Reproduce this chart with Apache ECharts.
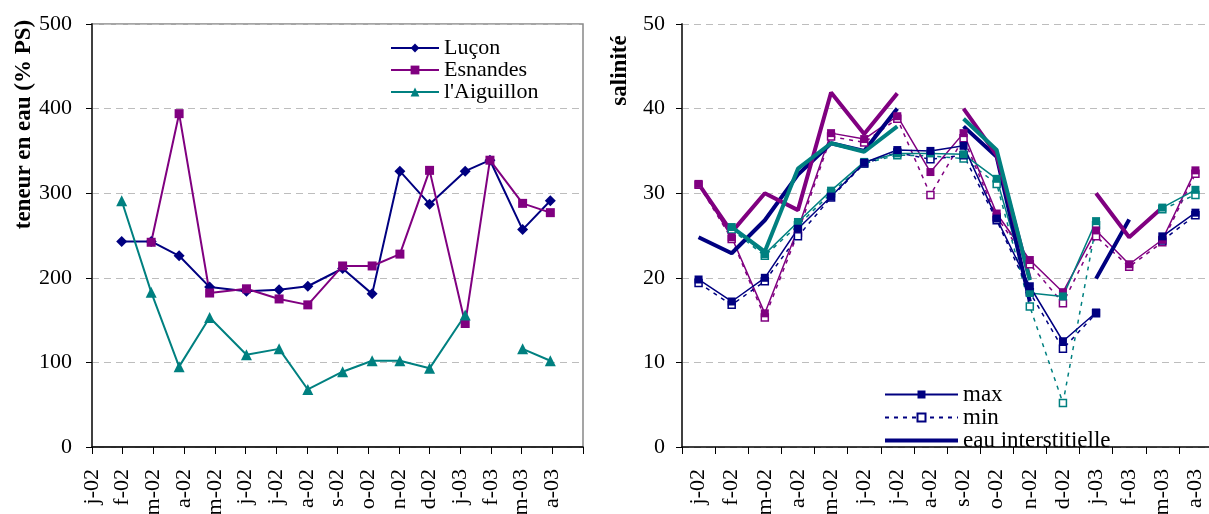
<!DOCTYPE html>
<html>
<head>
<meta charset="utf-8">
<script src="https://cdn.jsdelivr.net/npm/echarts@6/dist/echarts.min.js"></script>
<style>
    html, body { margin: 0; padding: 0; background: #fff; }
    #chart { width: 1209px; height: 514px; }
</style>
</head>
<body>
<div id="chart"></div>
<script>
var months = ['j-02', 'f-02', 'm-02', 'a-02', 'm-02', 'j-02', 'j-02', 'a-02', 's-02', 'o-02', 'n-02', 'd-02', 'j-03', 'f-03', 'm-03', 'a-03'];

// teneur en eau - sampling dates
var sampleDates = ['2002-01-31', '2002-02-27', '2002-03-27', '2002-04-26', '2002-06-02', '2002-07-04', '2002-08-02', '2002-09-06',
    '2002-10-05', '2002-11-02', '2002-12-01', '2003-01-06', '2003-01-31', '2003-03-02', '2003-03-30'];
var eauLucon = [243, 243, 226, 189, 184, 186, 190, 211, 181, 326, 287, 326, 339, 257, 291];
var eauEsnandes = [null, 242, 394, 182, 187, 175, 168, 214, 214, 228, 327, 146, 339, 288, 277];
var eauAiguillon = [291, 183, 95, 153, 109, 116, 68, 89, 102, 102, 93, 156, null, 116, 102];

// salinité
var maxLucon = [19.8, 17.2, 20.0, 25.8, 29.6, 33.6, 35.1, 35.0, 35.6, 27.0, 19.0, 12.5, 15.9, null, 24.9, 27.7];
var minLucon = [19.4, 16.8, 19.6, 24.9, 29.5, 33.5, 34.8, 34.0, 34.5, 26.8, 18.3, 11.6, 15.8, null, 24.4, 27.4];
var interLucon = [24.8, 22.9, 26.8, 32.2, 35.9, 35.0, 40.0, null, 37.9, 34.3, 17.2, null, 19.9, 26.9, null, null];

var maxEsnandes = [31.1, 24.8, 15.8, 25.8, 37.1, 36.4, 39.1, 32.5, 37.1, 27.6, 22.1, 18.3, 25.6, 21.6, 24.5, 32.7];
var minEsnandes = [31.0, 24.6, 15.3, 25.3, 36.7, 36.0, 38.8, 29.8, 36.5, 27.2, 21.6, 17.0, 24.9, 21.3, 24.2, 32.3];
var interEsnandes = [31.1, 25.4, 30.0, 28.0, 41.9, 37.0, 41.8, null, 40.0, 34.5, 19.9, null, 30.0, 24.8, 28.3, null];

var maxAiguillon = [null, 26.0, 22.8, 26.6, 30.3, 33.7, 34.7, 34.7, 34.6, 31.7, 18.2, 17.8, 26.7, null, 28.3, 30.4];
var minAiguillon = [null, 25.7, 22.6, 26.2, 30.0, 33.5, 34.5, 34.4, 34.1, 31.1, 16.6, 5.2, 26.2, null, 28.1, 29.8];
var interAiguillon = [null, 26.0, 23.1, 32.9, 35.9, 34.9, 37.9, null, 38.8, 35.1, 19.7, null, null, null, null, null];

var NAVY = '#000080', PURPLE = '#800080', TEAL = '#008080';
var FONT = '"Liberation Serif", "Times New Roman", serif';

// date -> position in months from january 2002
function monthPos(s) {
    var p = s.split('-');
    var y = +p[0], m = +p[1], d = +p[2];
    var dim = new Date(y, m, 0).getDate();
    return (y - 2002) * 12 + (m - 1) + (d - 1) / dim;
}

function pairs(values) {
    return values.map(function (v, i) {
        return [monthPos(sampleDates[i]), v === null ? '-' : v];
    });
}

function gaps(values) {
    return values.map(function (v) {
        return v === null ? '-' : v;
    });
}

function eauSeries(name, values, color, symbol, size) {
    return {
        name: name, type: 'line', xAxisIndex: 0, yAxisIndex: 0,
        data: pairs(values),
        symbol: symbol, symbolSize: size,
        color: color,
        lineStyle: {width: 2, color: color},
        itemStyle: {color: color},
        animation: false
    };
}

function maxSeries(name, values, color) {
    return {
        name: name, type: 'line', xAxisIndex: 1, yAxisIndex: 1,
        data: gaps(values),
        symbol: 'rect', symbolSize: 8,
        color: color,
        lineStyle: {width: 1.5, color: color},
        itemStyle: {color: color},
        animation: false
    };
}

function minSeries(name, values, color) {
    return {
        name: name, type: 'line', xAxisIndex: 1, yAxisIndex: 1,
        data: gaps(values),
        symbol: 'rect', symbolSize: 7,
        color: color,
        lineStyle: {width: 1.5, color: color, type: [4, 5]},
        itemStyle: {color: '#fff', borderColor: color, borderWidth: 1.5},
        animation: false
    };
}

function interSeries(name, values, color) {
    return {
        name: name, type: 'line', xAxisIndex: 1, yAxisIndex: 1,
        data: gaps(values),
        symbol: 'none',
        color: color,
        lineStyle: {width: 4, color: color},
        animation: false
    };
}

var labelStyle = {color: '#000', fontFamily: FONT, fontSize: 22};
var gridLine = {show: true, lineStyle: {color: '#bdbdbd', type: [7, 5], width: 1}};

var chart = echarts.init(document.getElementById('chart'));

var option = {
    backgroundColor: '#fff',
    animation: false,
    textStyle: {fontFamily: FONT},
    grid: [
        {left: 92, top: 24, width: 491, height: 423, outerBoundsMode: 'none',
            show: true, borderColor: '#888', borderWidth: 1.5, backgroundColor: 'transparent'},
        {left: 682, top: 24, width: 530, height: 423, outerBoundsMode: 'none'}
    ],
    legend: [
        {
            orient: 'vertical', left: 388, top: 35,
            itemWidth: 48, itemHeight: 11, itemGap: 0, padding: 2,
            textStyle: {color: '#000', fontFamily: FONT, fontSize: 22, lineHeight: 22},
            data: ['Luçon', 'Esnandes', "l'Aiguillon"]
        },
        {
            orient: 'vertical', left: 881, top: 381,
            itemWidth: 73, itemHeight: 10, itemGap: 0, padding: 2,
            textStyle: {color: '#000', fontFamily: FONT, fontSize: 23, lineHeight: 21},
            data: ['max', 'min', {name: 'eau interstitielle', itemStyle: {opacity: 0}, lineStyle: {width: 4}}]
        }
    ],
    xAxis: [
        {
            gridIndex: 0, type: 'value', min: 0, max: 16, interval: 1,
            axisLine: {show: true, lineStyle: {color: '#000', width: 1.5}},
            axisTick: {show: true, length: 7, lineStyle: {color: '#000'}},
            splitLine: {show: false},
            axisLabel: Object.assign({
                rotate: 90, margin: 22, showMaxLabel: true,
                formatter: function (v) {
                    return months[v] || '';
                }
            }, labelStyle)
        },
        {
            gridIndex: 1, type: 'category', data: months, boundaryGap: true,
            axisLine: {show: true, lineStyle: {color: '#000', width: 1.5}},
            axisTick: {show: true, length: 7, lineStyle: {color: '#000'}},
            axisLabel: Object.assign({rotate: 90, margin: 22, interval: 0}, labelStyle)
        }
    ],
    yAxis: [
        {
            gridIndex: 0, type: 'value', min: 0, max: 500, interval: 100,
            name: 'teneur en eau (% PS)', nameLocation: 'middle', nameGap: 53, nameRotate: 90,
            nameTextStyle: {color: '#000', fontFamily: FONT, fontSize: 23, fontWeight: 'bold', padding: [0, 0, 0, 222]},
            axisLine: {show: true, lineStyle: {color: '#404040', width: 2}},
            axisTick: {show: true, length: 6, lineStyle: {color: '#000'}},
            axisLabel: Object.assign({margin: 20}, labelStyle),
            splitLine: gridLine
        },
        {
            gridIndex: 1, type: 'value', min: 0, max: 50, interval: 10,
            name: 'salinité', nameLocation: 'middle', nameGap: 50, nameRotate: 90,
            nameTextStyle: {color: '#000', fontFamily: FONT, fontSize: 23, fontWeight: 'bold', padding: [0, 0, 0, 330]},
            axisLine: {show: true, lineStyle: {color: '#404040', width: 2}},
            axisTick: {show: true, length: 6, lineStyle: {color: '#000'}},
            axisLabel: Object.assign({margin: 17}, labelStyle),
            splitLine: gridLine
        }
    ],
    series: [
        eauSeries('Luçon', eauLucon, NAVY, 'diamond', 11),
        eauSeries('Esnandes', eauEsnandes, PURPLE, 'rect', 9),
        eauSeries("l'Aiguillon", eauAiguillon, TEAL, 'triangle', 11),

        minSeries('min Esnandes', minEsnandes, PURPLE),
        minSeries('min Aiguillon', minAiguillon, TEAL),
        minSeries('min', minLucon, NAVY),
        maxSeries('max Esnandes', maxEsnandes, PURPLE),
        maxSeries('max Aiguillon', maxAiguillon, TEAL),
        maxSeries('max', maxLucon, NAVY),
        interSeries('eau interstitielle', interLucon, NAVY),
        interSeries('inter Esnandes', interEsnandes, PURPLE),
        interSeries('inter Aiguillon', interAiguillon, TEAL)
    ]
};

chart.setOption(option);
</script>
</body>
</html>
